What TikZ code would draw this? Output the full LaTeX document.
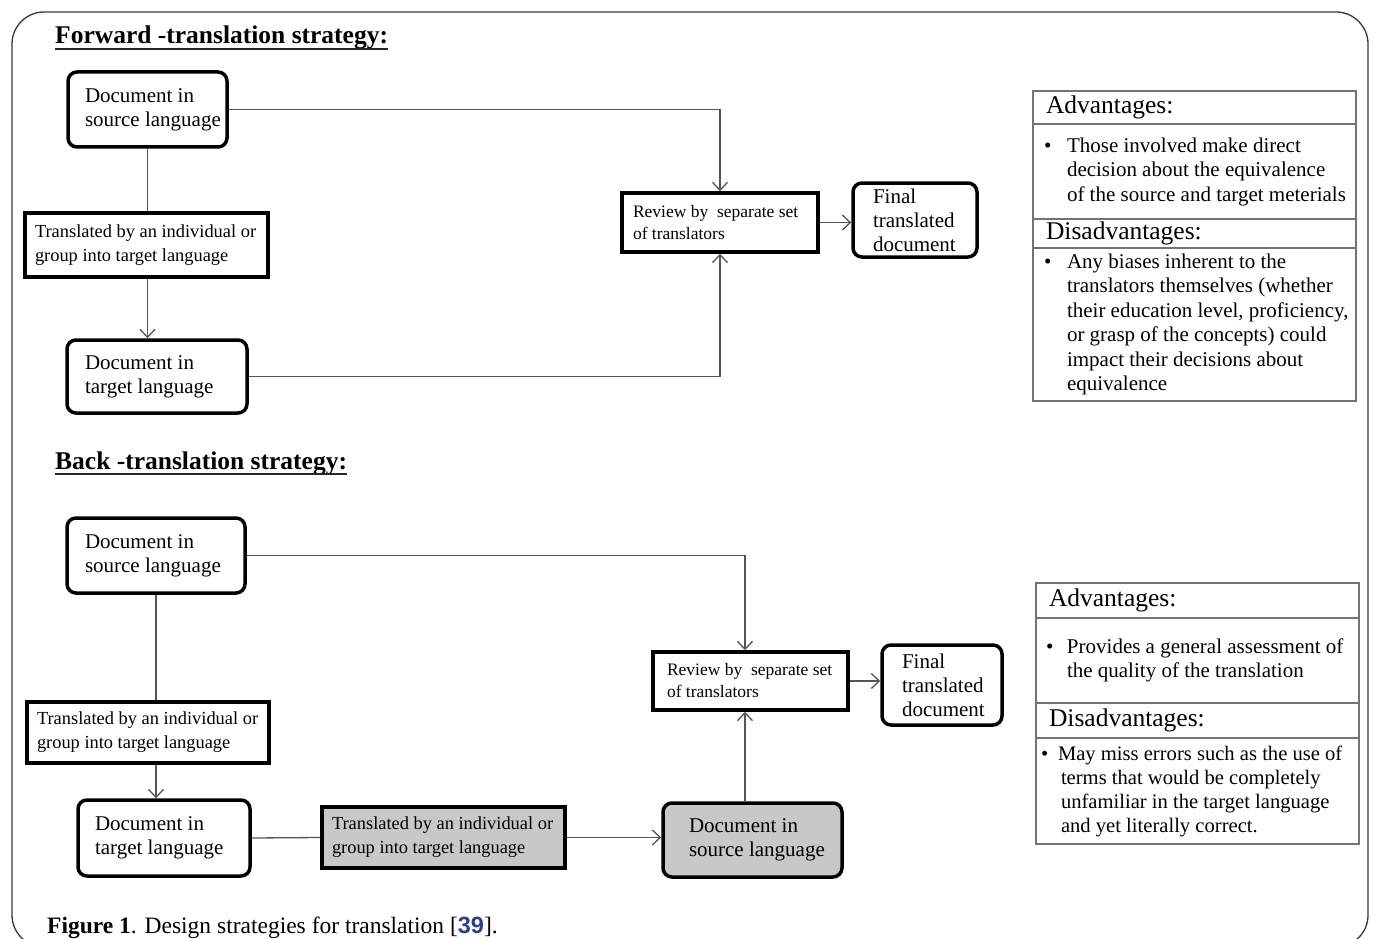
\documentclass[tikz,border=0pt]{standalone}
\usepackage{fontspec}
\setmainfont{Liberation Serif}
\newfontfamily\capsans{Liberation Sans}
\usetikzlibrary{arrows.meta}
\definecolor{linegray}{RGB}{85,85,85}
\definecolor{panelgray}{RGB}{115,115,115}
\definecolor{boxfill}{RGB}{200,200,200}
\definecolor{refblue}{RGB}{40,60,150}
\definecolor{framegray}{RGB}{55,55,55}
\begin{document}
\begin{tikzpicture}[x=1pt, y=-1pt,
  every node/.style={inner sep=0pt},
  lpad/.style={execute at begin node={\parindent=0pt\leftskip=#1pt\relax}},
  rbox/.style={draw=black, line width=3.5pt, rounded corners=9pt, align=flush left, fill=white},
  sbox/.style={draw=black, line width=3.5pt, align=flush left, fill=white},
  fbig/.style={font=\fontsize{21}{24}\selectfont},
  fmid/.style={font=\fontsize{18.4}{24}\selectfont},
  fsmall/.style={font=\fontsize{17.5}{22}\selectfont},
  conn/.style={draw=linegray, line width=1.3pt},
  arr/.style={conn, -{Straight Barb[length=8pt,width=15pt,line width=1.3pt]}},
  uline/.style={draw=black!85, line width=1.3pt},
  panel/.style={draw=panelgray, line width=2pt, anchor=north west, text width=323pt, align=flush left},
  headrow/.style={panel, lpad=13, font=\fontsize{25.5}{28}\selectfont},
  bodyrow/.style={panel, font=\fontsize{21}{24.5}\selectfont},
  titletext/.style={anchor=base west, font=\fontsize{25.5}{30}\selectfont\bfseries}]
\useasboundingbox (0,0) rectangle (1373,939);
\begin{scope}
\clip (0,0) rectangle (1373,939);
\draw[draw=framegray, line width=1.3pt, rounded corners=32pt] (12,12) rectangle (1368,947);
\end{scope}

% ---------- Forward translation ----------
\node[titletext] (T1) at (55,44) {Forward -translation strategy:};
\draw[uline] ([yshift=-5pt]T1.base west) -- ([yshift=-5pt]T1.base east);

\node[rbox, fbig, lpad=17, text width=159pt, minimum height=75pt] (A1) at (147.5,109.5) {Document in\\source language};
\node[sbox, fmid, lpad=10, text width=243pt, minimum height=64pt] (B1) at (146.5,245) {Translated by an individual or\\group into target language};
\node[rbox, fbig, lpad=18, text width=180pt, minimum height=73pt] (A2) at (157,376.5) {Document in\\target language};
\node[sbox, fsmall, lpad=11, text width=196pt, minimum height=59pt] (R1) at (720,222.5) {Review by\ \ separate set\\of translators};
\node[rbox, fbig, lpad=20, text width=124pt, minimum height=74pt] (F1) at (915,220) {Final\\translated\\document};

\draw[conn] (A1.south) -- (A1.south |- B1.north);
\draw[arr] (A1.south |- B1.south) -- (A1.south |- A2.north);
\draw[arr] (A1.east) -| (R1.north);
\draw[arr] (A2.east) -| (R1.south);
\draw[arr] (R1.east) -- (R1.east -| F1.west);

\node[headrow, minimum height=33pt] (PA1) at (1032,90) {Advantages:};
\node[bodyrow, lpad=34, minimum height=95pt] (PA2) at (1032,123) {\hspace*{-23pt}\makebox[23pt][l]{\textbullet}Those involved make direct\\decision about the equivalence\\of the source and target meterials};
\node[headrow, minimum height=29pt] (PA3) at (1032,218) {Disadvantages:};
\node[bodyrow, lpad=34, minimum height=153pt] (PA4) at (1032,247) {\hspace*{-23pt}\makebox[23pt][l]{\textbullet}Any biases inherent to the\\translators themselves (whether\\their education level, proficiency,\\or grasp of the concepts) could\\impact their decisions about\\equivalence};

% ---------- Back translation ----------
\node[titletext] (T2) at (55,469) {Back -translation strategy:};
\draw[uline] ([yshift=-5pt]T2.base west) -- ([yshift=-5pt]T2.base east);

\node[rbox, fbig, lpad=18, text width=178pt, minimum height=75pt] (A3) at (156,555.5) {Document in\\source language};
\node[sbox, fmid, lpad=10, text width=242pt, minimum height=61pt] (B3) at (148,732.5) {Translated by an individual or\\group into target language};
\node[rbox, fbig, lpad=17, text width=172pt, minimum height=76pt] (A4) at (164,838) {Document in\\target language};
\node[sbox, fmid, lpad=10, text width=243pt, minimum height=61pt, fill=boxfill] (B4) at (443.5,837.5) {Translated by an individual or\\group into target language};
\node[rbox, fbig, lpad=26, text width=179pt, minimum height=74pt, fill=boxfill] (A5) at (752.5,840) {Document in\\source language};
\node[sbox, fsmall, lpad=14, text width=195pt, minimum height=58pt] (R2) at (750.5,681) {Review by\ \ separate set\\of translators};
\node[rbox, fbig, lpad=20, text width=120pt, minimum height=80pt] (F2) at (942,685) {Final\\translated\\document};

\draw[conn] (A3.south) -- (A3.south |- B3.north);
\draw[arr] (A3.south |- B3.south) -- (A3.south |- A4.north);
\draw[arr] (A3.east) -| ([xshift=-5.5pt]R2.north);
\draw[conn] (A4.east) -- (B4.west);
\draw[arr] (B4.east) -- (B4.east -| A5.west);
\draw[arr] ([xshift=-7.5pt]A5.north) -- ([xshift=-7.5pt]A5.north |- R2.south);
\draw[arr] (R2.east) -- (R2.east -| F2.west);

\node[headrow, minimum height=35pt] (PB1) at (1035,582) {Advantages:};
\node[bodyrow, lpad=31, minimum height=85pt] (PB2) at (1035,617) {\hspace*{-21pt}\makebox[21pt][l]{\textbullet}Provides a general assessment of\\the quality of the translation};
\node[headrow, minimum height=35pt] (PB3) at (1035,702) {Disadvantages:};
\node[bodyrow, lpad=25, minimum height=106pt, font=\fontsize{20.6}{24}\selectfont] (PB4) at (1035,737) {\hspace*{-20pt}\makebox[17pt][l]{\textbullet}May miss errors such as the use of\\terms that would be completely\\unfamiliar in the target language\\and yet literally correct.};

% ---------- Caption ----------
\node[anchor=base west, font=\fontsize{23.5}{26}\selectfont] (CAP) at (47,933) {\textbf{Figure 1}. Design strategies for translation [{\capsans\bfseries\color{refblue}39}].};
\end{tikzpicture}
\end{document}
